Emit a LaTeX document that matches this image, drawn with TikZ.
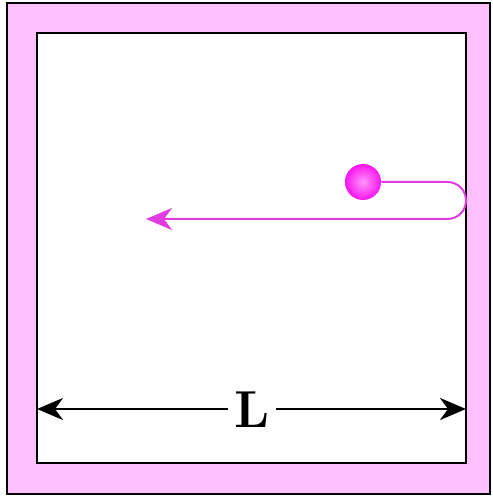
\documentclass[tikz,border=0pt]{standalone}
\usetikzlibrary{arrows.meta}
\definecolor{wallpink}{RGB}{255,192,255}
\definecolor{pathmag}{RGB}{225,60,225}
\definecolor{ballmag}{RGB}{250,20,240}
\begin{document}
\begin{tikzpicture}[x=0.5pt,y=0.5pt,>={Stealth[length=13pt,width=11pt,inset=4pt]}]
	  \useasboundingbox (0,0) rectangle (492,496);
	  \draw[line width=0.8pt,fill=wallpink] (7,2) rectangle (490,493);
	  \draw[line width=0.8pt,fill=white] (37,33) rectangle (466,463);
	  \node[circle,minimum size=18pt,inner sep=0pt,shading=radial,inner color=ballmag!45!white,outer color=ballmag] (ball) at (363,314) {};
	  \coordinate (turn) at (447.5,314);
	  \coordinate (tip) at (146,277);
	  \draw[pathmag,line width=1pt,->] (ball.east) -- (turn) arc[start angle=90,end angle=-90,radius=9.25pt] -- (tip);
	  \coordinate (wl) at (37,87);
	  \coordinate (wr) at (466,87);
	  \node[font=\fontsize{26}{30}\selectfont\bfseries,inner sep=3pt] (len) at (252,86) {L};
	  \draw[line width=1.3pt,->] (len.west |- wl) -- (wl);
	  \draw[line width=1.3pt,->] (len.east |- wr) -- (wr);
	\end{tikzpicture}
\end{document}
